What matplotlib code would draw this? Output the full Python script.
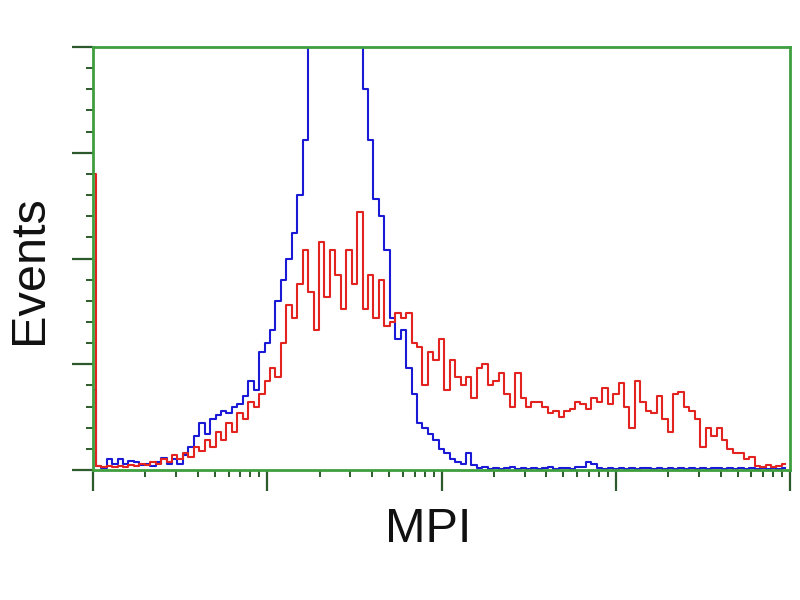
import matplotlib
matplotlib.use('Agg')
import matplotlib.pyplot as plt
from matplotlib.ticker import FixedLocator, NullFormatter, LogLocator
import numpy as np

# 128 log channels over 4 decades (MPI 1 .. 10^4)
n_channels = 128
decades = 4

control = [19, 1, 0.5, 2.5, 1.5, 2.5, 1.5, 2.2, 1.8, 1.2,
           1.5, 1.0, 1.8, 2.8, 1.5, 2.5, 1.5, 3.5, 5.5, 8,
           11, 8.5, 12, 13, 14, 13.5, 15, 15.5, 17.5, 21,
           19, 28, 30, 33, 40, 45, 50, 56, 65, 78,
           130, 150, 160, 170, 175, 170, 160, 150, 140, 120,
           90, 78, 64, 60, 52, 36, 31, 33, 24, 18,
           11, 10, 8.5, 7, 5, 4, 2.5, 2, 1.5, 4,
           1.2, 0.5, 0.6, 0.3, 0.5, 0.3, 0.4, 0.6, 0.3, 0.4,
           0.3, 0.5, 0.3, 0.4, 0.6, 0.3, 0.5, 0.4, 0.3, 0.6,
           0.8, 2, 1.5, 0.5, 0.3, 0.4, 0.3, 0.5, 0.3, 0.4,
           0.3, 0.4, 0.5, 0.3, 0.4, 0.3, 0.5, 0.3, 0.4, 0.3,
           0.5, 0.3, 0.4, 0.3, 0.5, 0.4, 0.3, 0.4, 0.3, 0.5,
           0.3, 0.4, 0.3, 0.4, 0.3, 0.5, 0.3, 0.4]

sample = [70, 1, 0.8, 1, 0.7, 1, 0.8, 1.2, 1, 1.5,
          1.2, 1.8, 1.5, 2.5, 2, 3.5, 2.5, 4, 3, 5.5,
          4.5, 7, 5.5, 9, 7, 11, 9, 13.5, 12, 16,
          15, 18, 21, 24, 22, 30, 39, 36, 44, 52,
          42, 33, 54, 41, 52, 46, 38, 52, 44, 61,
          38, 46, 36, 45, 34, 35, 37, 36, 37, 30,
          29, 20, 28, 26, 31, 19, 26, 22, 20, 22,
          17, 24, 25, 20, 21, 23, 18, 15, 23, 17,
          15, 16, 16, 15, 13.5, 14, 12.5, 14, 14.5, 16,
          15.5, 14.5, 17, 16, 19.5, 15.5, 18, 20.5, 15, 10,
          21, 16, 14, 13.5, 17.5, 12, 9, 18, 18.5, 15,
          14, 12, 5.5, 10, 8, 10, 7, 5, 4, 4,
          2.5, 3, 1, 0.8, 1.2, 0.8, 1, 1.5]

mpi = 10 ** (np.arange(n_channels) * decades / n_channels)

green = '#3f9f3f'
tick_col = '#2d5a2d'

fig = plt.figure(figsize=(8, 6), dpi=100)
ax = fig.add_axes([93/800, 1 - 470/600, (790 - 93)/800, (470 - 47)/600])

ax.plot(mpi, control, color='#1a1ad6', lw=1.5, drawstyle='steps-mid')
ax.plot(mpi, sample, color='#e2231f', lw=1.5, drawstyle='steps-mid')

ax.set_xscale('log')
ax.set_xlim(1, 10 ** decades)
ax.set_ylim(0, 100)

ax.xaxis.set_major_locator(FixedLocator([1, 10, 100, 1000, 10000]))
ax.xaxis.set_minor_locator(LogLocator(base=10, subs=np.arange(2, 10)))
ax.yaxis.set_major_locator(FixedLocator([0, 25, 50, 75, 100]))
ax.yaxis.set_minor_locator(FixedLocator(np.arange(0, 101, 5)))
ax.xaxis.set_major_formatter(NullFormatter())
ax.xaxis.set_minor_formatter(NullFormatter())
ax.yaxis.set_major_formatter(NullFormatter())

ax.tick_params(which='major', direction='out', length=15, width=1.6, color=tick_col)
ax.tick_params(which='minor', direction='out', length=5, width=1.4, color=tick_col)

for s in ax.spines.values():
    s.set_color(green)
    s.set_linewidth(2)

fig.text(428/800, 1 - 530/600, 'MPI', fontsize=35, family='Liberation Sans',
         ha='center', va='center', color='#111111')
fig.text(30/800, 1 - 270/600, 'Events', fontsize=35, family='Liberation Sans',
         rotation=90, ha='center', va='center', color='#111111')

fig.savefig('out.png', dpi=100)
